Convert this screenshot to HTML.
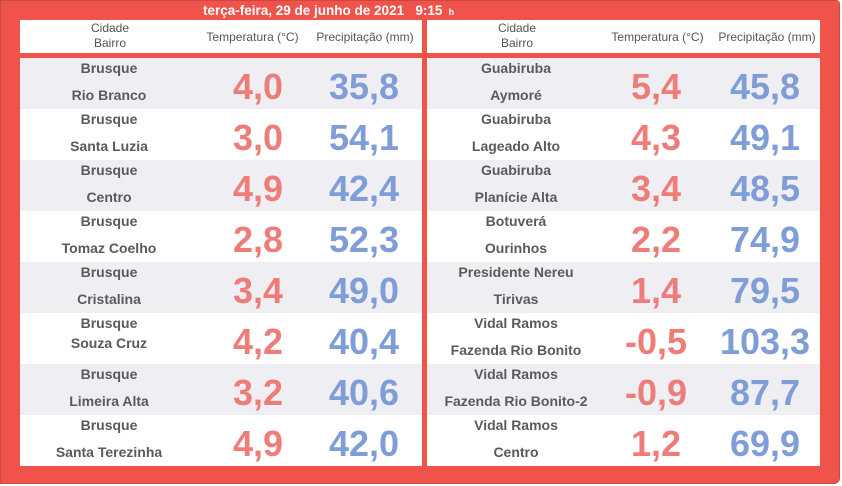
<!DOCTYPE html>
<html><head><meta charset="utf-8"><style>
*{margin:0;padding:0;box-sizing:border-box}
body{width:842px;height:486px;background:#fff;position:relative;overflow:hidden;font-family:"Liberation Sans",sans-serif}
#bg{position:absolute;left:0;top:0;width:840px;height:484px;background:#f0534a;border-radius:0 4px 6px 0;border:1px solid #c94a42}
.t{position:absolute;white-space:nowrap}
.hdr{position:absolute;top:20px;height:33px;background:#fff}
.row{position:absolute;height:51px}
.c{position:absolute;text-align:center;font-weight:bold;color:#5a5a5a;font-size:14px;line-height:25px}
.n{position:absolute;text-align:center;font-weight:bold;font-size:36px;line-height:51px;top:0}
.tp{color:#ee7d7a}.pr{color:#7f9dd7}
.hc{position:absolute;font-size:12px;color:#555;text-align:center;line-height:15px}
</style></head><body>
<div id="bg"></div>
<div class="t" style="left:203px;top:3px;color:#fff;font-weight:bold;font-size:13.5px">terça-feira, 29 de junho de 2021&nbsp;&nbsp;&nbsp;9:15 <span style="font-size:9px">&nbsp;h</span></div>
<div class="hdr" style="left:20px;width:402px"></div>
<div class="hdr" style="left:427px;width:393px"></div>
<div class="hc" style="left:60px;width:100px;top:21px">Cidade<br>Bairro</div>
<div class="hc" style="left:200px;width:105px;top:30px">Temperatura (°C)</div>
<div class="hc" style="left:310px;width:110px;top:30px">Precipitação (mm)</div>
<div class="hc" style="left:467px;width:100px;top:21px">Cidade<br>Bairro</div>
<div class="hc" style="left:605px;width:105px;top:30px">Temperatura (°C)</div>
<div class="hc" style="left:712px;width:110px;top:30px">Precipitação (mm)</div>
<div id="rows"></div>
<script>
var L=[["Brusque","Rio Branco","4,0","35,8"],["Brusque","Santa Luzia","3,0","54,1"],["Brusque","Centro","4,9","42,4"],["Brusque","Tomaz Coelho","2,8","52,3"],["Brusque","Cristalina","3,4","49,0"],["Brusque","Souza Cruz","4,2","40,4"],["Brusque","Limeira Alta","3,2","40,6"],["Brusque","Santa Terezinha","4,9","42,0"]];
var R=[["Guabiruba","Aymoré","5,4","45,8"],["Guabiruba","Lageado Alto","4,3","49,1"],["Guabiruba","Planície Alta","3,4","48,5"],["Botuverá","Ourinhos","2,2","74,9"],["Presidente Nereu","Tirivas","1,4","79,5"],["Vidal Ramos","Fazenda Rio Bonito","-0,5","103,3"],["Vidal Ramos","Fazenda Rio Bonito-2","-0,9","87,7"],["Vidal Ramos","Centro","1,2","69,9"]];
var h="";
function panel(d,x,w,cc,tc,pc){d.forEach(function(r,i){var y=58+i*51;var bg=i%2==0?"#efeef2":"#fff";
h+='<div class="row" style="left:'+x+'px;width:'+w+'px;top:'+y+'px;background:'+bg+'"></div>';
var y2=(i==5&&x<400)?y+18:y+25;
h+='<div class="c" style="left:'+(cc-90)+'px;width:180px;top:'+(y-2)+'px">'+r[0]+'</div>';
h+='<div class="c" style="left:'+(cc-90)+'px;width:180px;top:'+y2+'px">'+r[1]+'</div>';
h+='<div class="n tp" style="left:'+(tc-60)+'px;width:120px;top:'+(y+3)+'px">'+r[2]+'</div>';
h+='<div class="n pr" style="left:'+(pc-70)+'px;width:140px;top:'+(y+3)+'px">'+r[3]+'</div>';});}
panel(L,20,402,109,258,364);panel(R,427,393,516,656,765);
document.getElementById("rows").innerHTML=h;
</script>
</body></html>
